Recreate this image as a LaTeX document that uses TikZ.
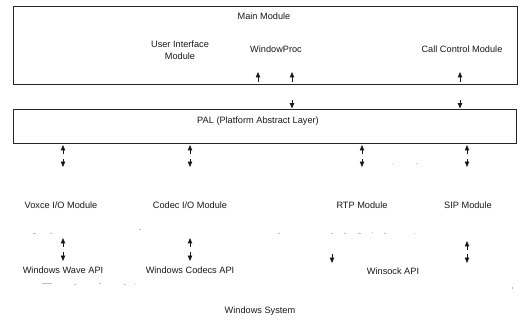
\documentclass[tikz,border=0pt]{standalone}
\usepackage{fontspec}
\setmainfont{Liberation Sans}
\usetikzlibrary{arrows.meta}
\begin{document}
\begin{tikzpicture}[x=1pt,y=-1pt,
  lbl/.style={font=\fontsize{9.2}{11}\selectfont, inner sep=0pt, text=black!90},
  box/.style={draw=black!85, line width=0.8pt, inner sep=0pt},
  tip/.style={line width=0.8pt, draw=black!90, -{Triangle[width=4.4pt,length=5.4pt]}},
  faint/.style={draw=black!25, line width=0.5pt}]
\useasboundingbox (0,0) rectangle (520,326);
% boxes
\node[box, minimum width=504pt, minimum height=78pt] (main) at (265,45) {};
\node[box, minimum width=503pt, minimum height=34pt] (pal) at (264.5,126) {};
% texts
\node[lbl] (mainlbl) at (264,16) {Main Module};
\node[lbl, align=center] (ui) at (180,50) {User Interface\\[0.5pt]Module};
\node[lbl] (wp) at (276,49) {WindowProc};
\node[lbl] (cc) at (462,49) {Call Control Module};
\node[lbl] (pallbl) at (258,121) {PAL (Platform Abstract Layer)};
\node[lbl] (voice) at (61,205) {Voxce I/O Module};
\node[lbl] (codec) at (190,205) {Codec I/O Module};
\node[lbl] (rtp) at (362,205) {RTP Module};
\node[lbl] (sip) at (468,205) {SIP Module};
\node[lbl] (wave) at (63,270) {Windows Wave API};
\node[lbl] (codecs) at (190,270) {Windows Codecs API};
\node[lbl] (winsock) at (393,271) {Winsock API};
\node[lbl] (winsys) at (260,311) {Windows System};
% arrow end coordinates
\foreach \n/\x in {a/258,b/292,c/460}{
  \coordinate (u\n s) at (\x,82); \coordinate (u\n e) at (\x,72);}
\foreach \n/\x in {b/292,c/460}{
  \coordinate (d\n s) at (\x,100); \coordinate (d\n e) at (\x,108.5);}
\foreach \n/\x in {a/63,b/190,c/362,d/467}{
  \coordinate (p\n s) at (\x,154); \coordinate (p\n e) at (\x,145);
  \coordinate (q\n s) at (\x,159); \coordinate (q\n e) at (\x,167);}
\foreach \n/\x/\y in {a/63/241,b/190/241,d/467/244}{
  \coordinate (r\n s) at (\x,\y+6); \coordinate (r\n e) at (\x,\y-3);}
\foreach \n/\x/\y in {a/63/258,b/190/258,c/332/260,d/467/260}{
  \coordinate (s\n s) at (\x,\y-6); \coordinate (s\n e) at (\x,\y+3);}
% arrows
\foreach \n in {a,b,c}{\draw[tip] (u\n s) -- (u\n e);}
\foreach \n in {b,c}{\draw[tip] (d\n s) -- (d\n e);}
\foreach \n in {a,b,c,d}{\draw[tip] (p\n s) -- (p\n e); \draw[tip] (q\n s) -- (q\n e);}
\foreach \n in {a,b,d}{\draw[tip] (r\n s) -- (r\n e);}
\foreach \n in {a,b,c,d}{\draw[tip] (s\n s) -- (s\n e);}
% faint remnants of faded lines
\foreach \a/\b/\y in {33/36/233,50/52/233,139/141/229,278/280/233,331/333/233,344/346/233,358/361/233,372/373/232,384/386/233,414/415/233,393/394/163,416/417/163,
  42/52/283,74/76/284,99/101/283,124/126/284,134/135/283}{
  \draw[faint] (\a,\y) -- (\b,\y);}
\draw[faint] (512,287) -- (512,289);
\end{tikzpicture}
\end{document}
